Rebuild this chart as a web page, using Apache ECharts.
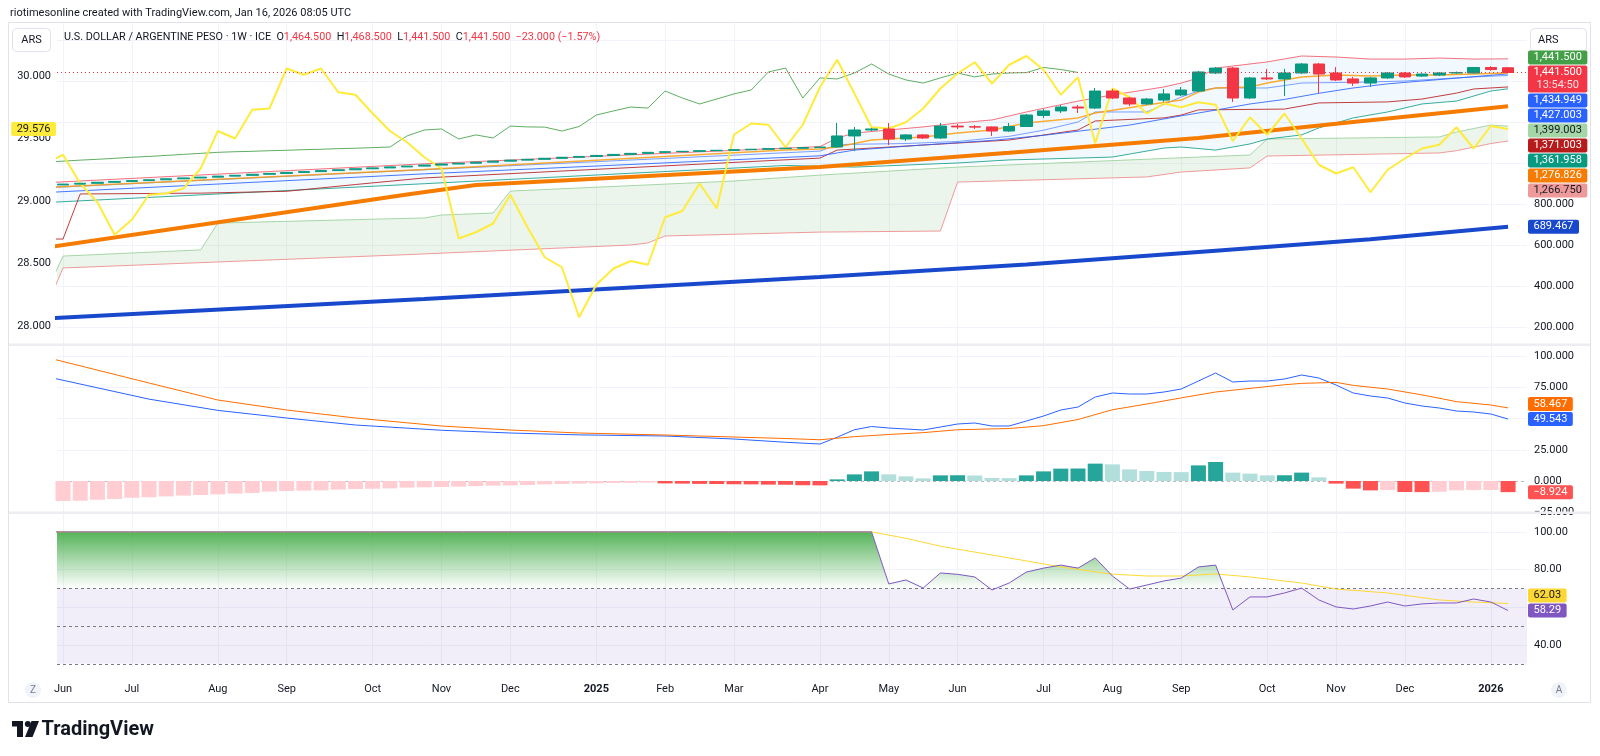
<!DOCTYPE html>
<html>
<head>
<meta charset="utf-8">
<title>USD/ARS weekly</title>
<script src="https://cdn.jsdelivr.net/npm/echarts@6.0.0/dist/echarts.min.js"></script>
<style>
  html, body { margin: 0; padding: 0; background: #ffffff; }
  #chart { width: 1600px; height: 756px; }
</style>
</head>
<body>
<div id="chart"></div>
<script>
// x values are week numbers: 0 = week of 3 Jun 2024, 84 = week of 12 Jan 2026
const tickIdx = [0, 4, 9, 13, 18, 22, 26, 31, 35, 39, 44, 48, 52, 57, 61, 65, 70, 74, 78, 83];
const tickText = ['Jun', 'Jul', 'Aug', 'Sep', 'Oct', 'Nov', 'Dec', '2025', 'Feb', 'Mar', 'Apr', 'May',
  'Jun', 'Jul', 'Aug', 'Sep', 'Oct', 'Nov', 'Dec', '2026'];

// weekly candles [open, close, low, high], first row is week -1
const candles = [
  [889, 893, 889, 893],
  [893, 897, 893, 897], [897, 901, 897, 901], [901, 906, 901, 906], [906, 910, 906, 910], [910, 914, 910, 914],
  [914, 918, 914, 918], [918, 923, 918, 923], [923, 927, 923, 927], [927, 931, 927, 931], [931, 936, 931, 936],
  [936, 940, 936, 940], [940, 945, 940, 945], [945, 949, 945, 949], [949, 954, 949, 954], [954, 958, 954, 958],
  [958, 963, 958, 963], [963, 967, 963, 967], [967, 972, 967, 972], [972, 976, 972, 976], [976, 981, 976, 981],
  [981, 985, 981, 985], [985, 990, 985, 990], [990, 995, 990, 995], [995, 999, 995, 999], [999, 1004, 999, 1004],
  [1004, 1009, 1004, 1009], [1009, 1014, 1009, 1014], [1014, 1018, 1014, 1018], [1018, 1023, 1018, 1023], [1023, 1028, 1023, 1028],
  [1028, 1032, 1028, 1032], [1032, 1037, 1032, 1037], [1037, 1042, 1037, 1042], [1042, 1047, 1042, 1047], [1047, 1052, 1047, 1052],
  [1052, 1055, 1052, 1055], [1055, 1057, 1055, 1057], [1057, 1060, 1057, 1060], [1060, 1062, 1060, 1062], [1062, 1065, 1062, 1065],
  [1065, 1067, 1065, 1067], [1067, 1070, 1067, 1070], [1070, 1072, 1070, 1072], [1072, 1075, 1072, 1075], [1075, 1078, 1075, 1078],
  [1078, 1132, 1075, 1196], [1132, 1161, 1058, 1176], [1161, 1166, 1156, 1171], [1166, 1117, 1088, 1195], [1117, 1137, 1107, 1141],
  [1137, 1122, 1117, 1141], [1122, 1180, 1117, 1195], [1180, 1176, 1166, 1190], [1177, 1175, 1166, 1185], [1176, 1156, 1132, 1178],
  [1156, 1178, 1152, 1195], [1178, 1234, 1176, 1239], [1232, 1254, 1219, 1263], [1254, 1273, 1244, 1283], [1273, 1268, 1244, 1283],
  [1268, 1351, 1263, 1366], [1351, 1317, 1312, 1361], [1317, 1288, 1278, 1322], [1288, 1312, 1283, 1317], [1307, 1337, 1298, 1361],
  [1332, 1356, 1327, 1371], [1351, 1444, 1346, 1449], [1439, 1463, 1434, 1468], [1463, 1317, 1298, 1468], [1317, 1415, 1312, 1420],
  [1415, 1410, 1405, 1459], [1410, 1439, 1327, 1459], [1439, 1483, 1434, 1488], [1483, 1434, 1341, 1488], [1439, 1405, 1400, 1468],
  [1410, 1390, 1376, 1420], [1390, 1415, 1371, 1420], [1415, 1439, 1410, 1444], [1439, 1420, 1415, 1444], [1424, 1434, 1420, 1436],
  [1429, 1439, 1424, 1444], [1439, 1441, 1436, 1446], [1439, 1466, 1436, 1468], [1466, 1456, 1450, 1472], [1464.5, 1441.5, 1441.5, 1468.5]
];

// yellow line on the left scale, weeks -1 .. 84
const yellowLine = [
  29.30, 29.37, 29.14, 28.99, 28.73, 28.85, 29.05, 29.06, 29.10, 29.26, 29.56,
  29.50, 29.73, 29.74, 30.06, 30.01, 30.06, 29.87, 29.85, 29.70, 29.56,
  29.47, 29.35, 29.26, 28.70, 28.75, 28.82, 29.05, 28.79, 28.55, 28.47,
  28.07, 28.33, 28.46, 28.52, 28.49, 28.87, 28.92, 29.14, 28.94, 29.53,
  29.62, 29.61, 29.43, 29.61, 29.91, 30.13, 29.86, 29.59, 29.58, 29.63,
  29.74, 29.90, 30.02, 30.11, 29.94, 30.09, 30.16, 30.05, 29.85, 29.99,
  29.46, 29.90, 29.83, 29.70, 29.78, 29.75, 29.79, 29.77, 29.48, 29.67,
  29.53, 29.70, 29.50, 29.29, 29.22, 29.27, 29.07, 29.25, 29.34, 29.42,
  29.45, 29.59, 29.42, 29.60, 29.576
];

// indicator lines on the price scale, [week, value]
const bbUpper = [[-1, 904], [21, 996], [44, 1080], [45, 1122], [46, 1146], [48, 1161], [50, 1176], [52, 1195], [54, 1210],
  [56, 1249], [59, 1302], [61, 1332], [64, 1371], [65, 1390], [66, 1415], [67, 1463], [69, 1483], [70, 1493], [72, 1522],
  [74, 1517], [76, 1507], [78, 1507], [80, 1512], [82, 1507], [84, 1508]];
const bbBasis = [[-1, 856], [21, 947], [44, 1035], [46, 1063], [50, 1088], [54, 1110], [57, 1135], [60, 1165], [62, 1185],
  [65, 1230], [67, 1258], [69, 1288], [71, 1310], [73, 1340], [75, 1366], [77, 1386], [79, 1400], [81, 1414], [84, 1434.949]];
const bbLower = [[-1, 807], [21, 899], [42, 988], [46, 980], [52, 1000], [55, 1015], [59, 1024], [61, 1029], [64, 1073],
  [65, 1078], [67, 1063], [69, 1093], [70, 1117], [72, 1137], [73, 1171], [75, 1220], [77, 1249], [79, 1288], [81, 1302],
  [83, 1351], [84, 1361.958]];
const tenkan = [[-1, 879], [21, 967], [44, 1058], [45, 1090], [49, 1095], [52, 1105], [55, 1130], [57, 1160], [59, 1200],
  [60, 1249], [63, 1249], [65, 1322], [66, 1351], [67, 1366], [70, 1366], [72, 1390], [76, 1395], [78, 1400], [80, 1410],
  [82, 1420], [84, 1427.003]];
const kijun = [[-1, 629], [0, 629], [1, 849], [8, 853], [13, 862], [17, 895], [21, 927], [44, 1024], [45, 1063], [55, 1112],
  [59, 1161], [60, 1205], [64, 1220], [65, 1234], [66, 1259], [71, 1263], [73, 1293], [77, 1298], [79, 1312], [81, 1341],
  [82, 1361], [84, 1371.003]];
const tanLine = [[-1, 880], [21, 968], [42, 1063], [44, 1068], [45, 1078], [47, 1112], [50, 1127], [52, 1146], [54, 1161],
  [56, 1195], [59, 1220], [60, 1244], [63, 1283], [65, 1307], [66, 1346], [67, 1366], [69, 1371], [70, 1390], [71, 1405],
  [72, 1420], [74, 1429], [76, 1424], [78, 1429], [80, 1429], [82, 1434], [84, 1439]];
const spanA = [[-1, 366], [0, 546], [8, 576], [9, 707], [21, 732], [22, 746], [25, 756], [26, 863], [39, 912], [44, 941],
  [52, 980], [66, 1029], [69, 1039], [70, 1117], [80, 1127], [81, 1151], [83, 1185], [84, 1180]];
const spanB = [[-1, 290], [0, 488], [20, 553], [33, 600], [34, 610], [35, 644], [44, 663], [51, 668], [52, 907], [63, 932],
  [65, 956], [69, 976], [70, 1034], [80, 1049], [81, 1060], [83, 1095], [84, 1107]];
const spanAFuture = 1399.003;
const spanBFuture = 1266.750;
const thickOrange = [[-1, 587], [20, 846], [24, 893], [44, 980], [55, 1050], [66, 1122], [75, 1200], [84, 1276.826]];
const thickBlue = [[-1, 241], [21, 337], [44, 444], [56, 505], [67, 572], [76, 628], [84, 689.467]];

// MACD pane
const macdLine = [[-1, 83.6], [5, 65.5], [9, 56.5], [13, 50.4], [17, 44.8], [22, 40.6], [26, 38.4], [30, 36.9], [35, 36],
  [39, 33.6], [42, 31], [44, 29.6], [45, 35], [46, 41], [47, 43.6], [48, 42.4], [49, 41.6], [50, 40.8], [51, 43.2],
  [52, 45.6], [53, 46.4], [54, 44], [55, 44], [56, 48], [57, 52], [58, 56.8], [59, 59.2], [60, 67.2], [61, 70.4],
  [62, 69.6], [63, 69.6], [64, 71.2], [65, 73.6], [66, 80], [67, 86.4], [68, 79.2], [69, 80], [70, 80], [71, 81.6],
  [72, 84.8], [73, 82.4], [74, 76.8], [75, 70.4], [76, 68], [77, 66.4], [78, 62.4], [79, 60], [80, 58.4], [81, 56],
  [82, 55.2], [83, 53.6], [84, 49.543]];
const signalLine = [[-1, 99], [5, 78.4], [9, 64.8], [13, 56.8], [17, 50.4], [22, 44], [26, 40.8], [30, 38.4], [35, 36.8],
  [39, 35.2], [42, 34], [44, 33], [46, 35.5], [48, 37.2], [50, 38.7], [52, 41], [55, 42], [57, 44.3], [59, 49.2],
  [61, 57], [63, 61.6], [65, 66.5], [67, 71.2], [69, 74.1], [71, 77], [72, 78.1], [74, 78.9], [75, 76.5], [77, 73.6],
  [79, 68.9], [81, 63.5], [83, 60.8], [84, 58.467]];
// histogram, weeks 0 .. 84
const macdHist = [
  -16, -15.8, -15, -14.4, -13.4, -13, -12.3, -11.7, -11.2, -10.7,
  -10.1, -9.6, -8.5, -8, -7.7, -7.5, -6.9, -6.4, -6.2, -5.9,
  -5.3, -5.1, -4.8, -4.5, -4.1, -3.7, -3.5, -3.2, -2.7, -2.4,
  -2.1, -1.9, -1.6, -1.5, -1.3, -1.9, -2.1, -2.3, -2.4, -2.6,
  -2.7, -2.9, -3.0, -3.4, -3.5, 1.3, 5.3, 7.7, 5.3, 3.7,
  2.1, 4.5, 4.6, 4.4, 2.4, 2.3, 4.5, 7.7, 9.9, 10.0,
  13.9, 13.3, 9.3, 8, 7.2, 7.1, 12.5, 15.2, 6.7, 5.9,
  4.5, 4.6, 6.7, 2.9, -2.1, -6.1, -7.5, -7.2, -8.8, -8.9,
  -8.6, -7.5, -7.3, -7.2, -8.924
];

// RSI pane
const rsiLine = [[-1, 100], [47, 100], [48, 72.4], [49, 74.5], [50, 70.2], [51, 78.2], [52, 77.5], [53, 76.1], [54, 69.2],
  [55, 72.9], [56, 78.7], [57, 80.8], [58, 82.4], [59, 80.8], [60, 86.2], [61, 76.6], [62, 69.7], [63, 71.8], [64, 74],
  [65, 75.5], [66, 81.4], [67, 82.4], [68, 58.6], [69, 65.5], [70, 65.5], [71, 67.6], [72, 70.2], [73, 63.9], [74, 60.2],
  [75, 59.1], [76, 60.7], [77, 62.8], [78, 60.7], [79, 61.8], [80, 62.3], [81, 62.3], [82, 64.4], [83, 62.8], [84, 58.29]];
const rsiMa = [[-1, 100], [47, 100], [49, 96.6], [51, 92.4], [53, 89.3], [56, 84.6], [58, 81.4], [61, 77.6], [63, 76.6],
  [65, 76.6], [67, 77.7], [69, 76.1], [72, 72.9], [74, 69.7], [77, 67.6], [80, 63.9], [82, 62.8], [84, 62.03]];

const FONT = 'Roboto, "Liberation Sans", sans-serif';
const TEXT = '#131722';
const GRID = '#f0f3fa';
const X_MIN = -0.35, X_MAX = 85.1;

const chart = echarts.init(document.getElementById('chart'), null, { renderer: 'canvas' });

const last = arr => arr[arr.length - 1][1];

function gridLines(xi, yi, hVals) {
  return {
    type: 'line', xAxisIndex: xi, yAxisIndex: yi, data: [], silent: true, z: 0,
    markLine: {
      silent: true, z: 0, symbol: ['none', 'none'], label: { show: false }, animation: false,
      lineStyle: { color: GRID, width: 1, type: 'solid' },
      data: tickIdx.map(v => ({ xAxis: v })).concat(hVals.map(v => ({ yAxis: v })))
    }
  };
}

function lineSeries(data, color, width, xi, yi, z, opacity) {
  return {
    type: 'line', xAxisIndex: xi, yAxisIndex: yi, data, showSymbol: false, symbol: 'none',
    silent: true, z: z || 2,
    lineStyle: { color, width, opacity: opacity == null ? 1 : opacity }
  };
}

function band(upper, lower, fill, anchor) {
  return {
    type: 'custom', xAxisIndex: 0, yAxisIndex: 0, silent: true, clip: true, z: 1,
    data: [anchor],
    renderItem: (params, api) => {
      const pts = upper.map(p => api.coord(p)).concat(lower.slice().reverse().map(p => api.coord(p)));
      return { type: 'polygon', shape: { points: pts }, style: { fill } };
    }
  };
}

const histData = macdHist.map((v, k) => {
  const prev = k > 0 ? macdHist[k - 1] : -Infinity;
  let c;
  if (v >= 0) c = v > prev ? '#26A69A' : '#B2DFDB';
  else c = v > prev ? '#FFCDD2' : '#FF5252';
  return { value: [k, v], itemStyle: { color: c } };
});

const yAxisBase = {
  type: 'value', axisLine: { show: false }, axisTick: { show: false }, splitLine: { show: false }
};
const axisLabelBase = { color: TEXT, fontSize: 11, fontFamily: FONT };

const option = {
  animation: false,
  backgroundColor: '#ffffff',
  textStyle: { fontFamily: FONT },
  grid: [
    { left: 57, right: 73, top: 22, height: 323, outerBoundsMode: 'none' },
    { left: 57, right: 73, top: 345, height: 167.5, outerBoundsMode: 'none' },
    { left: 57, right: 73, top: 513, height: 155, outerBoundsMode: 'none' }
  ],
  xAxis: [0, 1, 2].map(g => ({
    type: 'value', gridIndex: g, min: X_MIN, max: X_MAX,
    axisLine: { show: false }, axisTick: { show: false }, splitLine: { show: false },
    axisLabel: g < 2 ? { show: false } : Object.assign({}, axisLabelBase, {
      customValues: tickIdx, margin: 16,
      formatter: v => {
        const t = tickText[tickIdx.indexOf(v)];
        return /^\d{4}$/.test(t) ? '{y|' + t + '}' : t;
      },
      rich: { y: { fontWeight: 'bold', fontSize: 11, color: TEXT, fontFamily: FONT } }
    })
  })),
  yAxis: [
    Object.assign({}, yAxisBase, {
      gridIndex: 0, position: 'right', min: 112.2, max: 1687.8,
      axisLabel: Object.assign({}, axisLabelBase, { customValues: [200, 400, 600, 800], margin: 7, formatter: v => v.toFixed(3) })
    }),
    Object.assign({}, yAxisBase, {
      gridIndex: 0, position: 'left', min: 27.848, max: 30.432,
      axisLabel: Object.assign({}, axisLabelBase, { customValues: [28, 28.5, 29, 29.5, 30], margin: 6, formatter: v => v.toFixed(3) })
    }),
    Object.assign({}, yAxisBase, {
      gridIndex: 1, position: 'right', min: -25.2, max: 108.8,
      axisLabel: Object.assign({}, axisLabelBase, {
        customValues: [100, 75, 25, 0, -25], margin: 7,
        formatter: v => (v < 0 ? '\u2212' : '') + Math.abs(v).toFixed(3)
      })
    }),
    Object.assign({}, yAxisBase, {
      gridIndex: 2, position: 'right', min: 27.8, max: 110.03,
      axisLabel: Object.assign({}, axisLabelBase, { customValues: [100, 80, 40], margin: 7, formatter: v => v.toFixed(2) })
    })
  ],
  series: [
    gridLines(0, 0, [200, 400, 600, 800, 1000, 1200, 1400, 1600]),
    gridLines(1, 2, [100, 75, 50, 25]),
    gridLines(2, 3, [100, 80, 60, 40]),

    // main pane
    band(bbUpper, bbLower, 'rgba(33,150,243,0.06)', [40, 1000]),
    band(spanA, spanB, 'rgba(67,160,71,0.1)', [40, 800]),
    lineSeries(spanA, '#A5D6A7', 1, 0, 0),
    lineSeries(spanB, '#EF9A9A', 1, 0, 0),
    lineSeries(thickBlue, '#1848CC', 4, 0, 0, 3),
    lineSeries(thickOrange, '#F57C00', 4, 0, 0, 3),
    lineSeries(candles.map((r, k) => [k - 26, r[1]]), '#43A047', 1, 0, 0, 2, 0.85),
    lineSeries(bbLower, '#089981', 1, 0, 0, 2, 0.8),
    lineSeries(bbUpper, '#F23645', 1, 0, 0, 2, 0.7),
    lineSeries(kijun, '#B71C1C', 1, 0, 0, 2, 0.85),
    lineSeries(bbBasis, '#2962FF', 1, 0, 0, 2, 0.85),
    lineSeries(tenkan, '#2962FF', 1, 0, 0, 2, 0.6),
    lineSeries(tanLine, '#FF9800', 1.5, 0, 0, 2, 0.8),
    lineSeries(yellowLine.map((v, k) => [k - 1, v]), '#FFEB3B', 2, 0, 1, 3),
    {
      type: 'candlestick', xAxisIndex: 0, yAxisIndex: 0, barWidth: 12, silent: true, z: 4,
      data: candles.map((r, k) => [k - 1, r[0], r[1], r[2], r[3]]),
      itemStyle: { color: '#089981', color0: '#F23645', borderColor: '#089981', borderColor0: '#F23645', borderWidth: 1 },
      markLine: {
        silent: true, symbol: ['none', 'none'], label: { show: false },
        lineStyle: { color: '#F23645', width: 1, type: [1, 3] },
        data: [{ yAxis: candles[candles.length - 1][1] }]
      }
    },

    // MACD pane
    {
      type: 'bar', xAxisIndex: 1, yAxisIndex: 2, barWidth: 15, silent: true, z: 2,
      data: histData,
      markLine: {
        silent: true, z: 1, symbol: ['none', 'none'], label: { show: false },
        lineStyle: { color: '#787B86', width: 1, type: [3, 3], opacity: 0.5 },
        data: [{ yAxis: 0 }]
      }
    },
    lineSeries(macdLine, '#2962FF', 1, 1, 2, 3),
    lineSeries(signalLine, '#FF6D00', 1, 1, 2, 3),

    // RSI pane
    {
      type: 'line', xAxisIndex: 2, yAxisIndex: 3, data: [], silent: true, z: 1,
      markArea: {
        silent: true, z: 1, itemStyle: { color: 'rgba(126,87,194,0.1)' },
        data: [[{ yAxis: 30 }, { yAxis: 70 }]]
      },
      markLine: {
        silent: true, z: 3, symbol: ['none', 'none'], label: { show: false },
        lineStyle: { color: '#787B86', width: 1, type: [3, 3] },
        data: [{ yAxis: 70 }, { yAxis: 50 }, { yAxis: 30 }]
      }
    },
    {
      type: 'custom', xAxisIndex: 2, yAxisIndex: 3, silent: true, clip: true, z: 2,
      data: [[40, 80]],
      renderItem: (params, api) => {
        const pts = rsiLine.map(p => api.coord(p));
        const a = api.coord([rsiLine[0][0], 70]);
        const b = api.coord([rsiLine[rsiLine.length - 1][0], 70]);
        const top = api.coord([0, 100])[1];
        return {
          type: 'polygon', shape: { points: pts.concat([b, a]) },
          style: {
            fill: new echarts.graphic.LinearGradient(0, top, 0, a[1], [
              { offset: 0, color: 'rgba(76,175,80,0.95)' },
              { offset: 1, color: 'rgba(76,175,80,0)' }
            ], true)
          }
        };
      }
    },
    lineSeries(rsiMa, '#FDD835', 1, 2, 3, 3),
    lineSeries(rsiLine, '#7E57C2', 1, 2, 3, 3)
  ]
};

chart.setOption(option);

// frame, header, buttons
const txt = (x, y, text, font, fill, align) => ({
  type: 'text', x, y, silent: true, z: 210,
  style: { text, font, fill: fill || TEXT, align: align || 'left', verticalAlign: 'middle',
    textAlign: align || 'left', textVerticalAlign: 'middle' }
});
const F11 = '11px ' + FONT;
const FT = '10.8px ' + FONT;

const staticGraphics = [
  { type: 'rect', silent: true, z: 100, shape: { x: 8.5, y: 22.5, width: 1582, height: 680 }, style: { fill: 'none', stroke: '#e0e3eb', lineWidth: 1 } },
  { type: 'rect', silent: true, z: 100, shape: { x: 9, y: 343.5, width: 1581, height: 2.5 }, style: { fill: '#eceef2' } },
  { type: 'rect', silent: true, z: 100, shape: { x: 9, y: 511.5, width: 1581, height: 2.5 }, style: { fill: '#eceef2' } },
  txt(10, 13, 'riotimesonline created with TradingView.com, Jan 16, 2026 08:05 UTC', F11),
  { type: 'rect', silent: true, z: 205, shape: { x: 12.5, y: 28.5, width: 38, height: 23, r: 4 }, style: { fill: '#ffffff', stroke: '#e0e3eb' } },
  txt(31.5, 40, 'ARS', F11, TEXT, 'center'),
  { type: 'rect', silent: true, z: 205, shape: { x: 1530.5, y: 28.5, width: 56, height: 23, r: 4 }, style: { fill: '#ffffff', stroke: '#e0e3eb' } },
  txt(1538, 40, 'ARS', F11),
  {
    type: 'text', x: 64, y: 37.5, silent: true, z: 210,
    style: {
      text: '{d|U.S. DOLLAR / ARGENTINE PESO \u00b7 1W \u00b7 ICE  O}{r|1,464.500}{d|  H}{r|1,468.500}{d|  L}{r|1,441.500}{d|  C}{r|1,441.500}{r|  \u221223.000 (\u22121.57%)}',
      font: FT, verticalAlign: 'middle', textVerticalAlign: 'middle',
      rich: { d: { fill: TEXT, font: FT }, r: { fill: '#F23645', font: FT } }
    }
  },
  { type: 'circle', silent: true, z: 205, shape: { cx: 33, cy: 690, r: 8 }, style: { fill: '#f0f3fa' } },
  txt(33, 690, 'Z', '10px ' + FONT, '#787B86', 'center'),
  { type: 'circle', silent: true, z: 205, shape: { cx: 1559, cy: 690, r: 8 }, style: { fill: '#f0f3fa' } },
  txt(1559, 690, 'A', '10px ' + FONT, '#787B86', 'center'),
  // TradingView mark
  { type: 'rect', silent: true, z: 205, shape: { x: 12, y: 721, width: 11, height: 5.5 }, style: { fill: '#131722' } },
  { type: 'rect', silent: true, z: 205, shape: { x: 17, y: 721, width: 6, height: 16 }, style: { fill: '#131722' } },
  { type: 'circle', silent: true, z: 205, shape: { cx: 27.8, cy: 724, r: 3 }, style: { fill: '#131722' } },
  { type: 'polygon', silent: true, z: 205, shape: { points: [[31.5, 721], [39, 721], [32.5, 737], [25, 737]] }, style: { fill: '#131722' } },
  txt(41.5, 730, 'TradingView', 'bold 20px ' + FONT)
];

// value labels on the price scales, stacked like TradingView does
const measureCtx = document.createElement('canvas').getContext('2d');
const LABEL_FONT = '11px ' + FONT;
const fmt = (v, d) => (v < 0 ? '\u2212' : '') + Math.abs(v).toLocaleString('en-US', { minimumFractionDigits: d, maximumFractionDigits: d });

function labelBoxes(list, yAxisIndex, anchor, side) {
  measureCtx.font = LABEL_FONT;
  const items = list.map(l => {
    const lines = l.text.split('\n');
    const h = 13 * lines.length + 1;
    const c = chart.convertToPixel({ yAxisIndex }, l.value);
    const w = Math.max.apply(null, lines.map(t => measureCtx.measureText(t).width)) + 11;
    return { lines, h, w, top: c - 7, bg: l.bg, fg: l.fg || '#ffffff' };
  });
  for (let k = anchor + 1; k < items.length; k++) {
    items[k].top = Math.max(items[k].top, items[k - 1].top + items[k - 1].h + 1);
  }
  for (let k = anchor - 1; k >= 0; k--) {
    items[k].top = Math.min(items[k].top, items[k + 1].top - items[k].h - 1);
  }
  const out = [];
  items.forEach(it => {
    const x0 = side === 'left' ? 56 - it.w : 1528;
    out.push({ type: 'rect', silent: true, z: 220, shape: { x: x0, y: it.top, width: it.w, height: it.h, r: 2 }, style: { fill: it.bg } });
    it.lines.forEach((t, j) => out.push({
      type: 'text', x: x0 + it.w / 2, y: it.top + 7 + 13 * j, silent: true, z: 221,
      style: { text: t, font: LABEL_FONT, fill: it.fg, opacity: j ? 0.85 : 1, align: 'center', verticalAlign: 'middle',
        textAlign: 'center', textVerticalAlign: 'middle' }
    }));
  });
  return out;
}

const closeNow = candles[candles.length - 1][1];
const mainLabels = [
  { value: closeNow, text: fmt(closeNow, 3), bg: '#43A047' },
  { value: closeNow, text: fmt(closeNow, 3) + '\n13:54:50', bg: '#F23645' },
  { value: last(bbBasis), text: fmt(last(bbBasis), 3), bg: '#2962FF' },
  { value: last(tenkan), text: fmt(last(tenkan), 3), bg: '#2962FF' },
  { value: spanAFuture, text: fmt(spanAFuture, 3), bg: '#A5D6A7', fg: TEXT },
  { value: last(kijun), text: fmt(last(kijun), 3), bg: '#B71C1C' },
  { value: last(bbLower), text: fmt(last(bbLower), 3), bg: '#089981' },
  { value: last(thickOrange), text: fmt(last(thickOrange), 3), bg: '#F57C00' },
  { value: spanBFuture, text: fmt(spanBFuture, 3), bg: '#EF9A9A', fg: TEXT },
  { value: last(thickBlue), text: fmt(last(thickBlue), 3), bg: '#1848CC' }
];
const macdLabels = [
  { value: last(signalLine), text: fmt(last(signalLine), 3), bg: '#FF6D00' },
  { value: last(macdLine), text: fmt(last(macdLine), 3), bg: '#2962FF' },
  { value: macdHist[macdHist.length - 1], text: fmt(macdHist[macdHist.length - 1], 3), bg: '#FF5252' }
];
const rsiLabels = [
  { value: last(rsiMa), text: fmt(last(rsiMa), 2), bg: '#FDD835', fg: TEXT },
  { value: last(rsiLine), text: fmt(last(rsiLine), 2), bg: '#7E57C2' }
];
const leftLabels = [
  { value: yellowLine[yellowLine.length - 1], text: fmt(yellowLine[yellowLine.length - 1], 3), bg: '#FFEB3B', fg: TEXT }
];

chart.setOption({
  graphic: staticGraphics
    .concat(labelBoxes(mainLabels, 0, 1, 'right'))
    .concat(labelBoxes(macdLabels, 2, 1, 'right'))
    .concat(labelBoxes(rsiLabels, 3, 1, 'right'))
    .concat(labelBoxes(leftLabels, 1, 0, 'left'))
});
</script>
</body>
</html>
